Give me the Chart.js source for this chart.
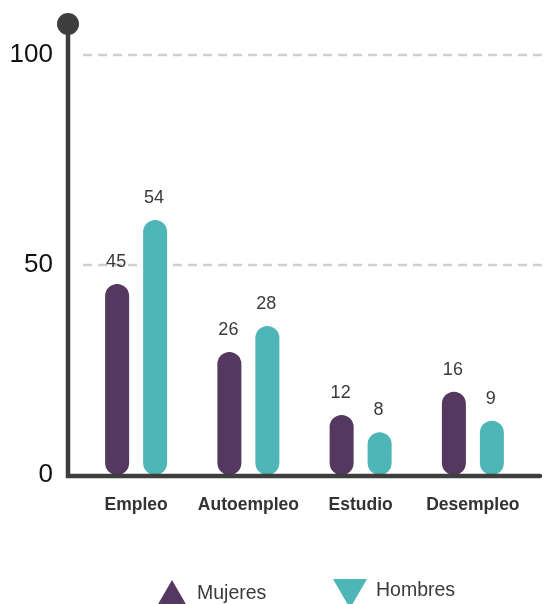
<!DOCTYPE html>
<html><head><meta charset="utf-8">
<script src="https://cdn.jsdelivr.net/npm/chart.js@4/dist/chart.umd.min.js"></script>
<style>html,body{margin:0;padding:0;background:#fff}#wrap{width:547px;height:604px;position:relative}</style>
</head><body><div id="wrap"><canvas id="c" width="547" height="604"></canvas></div>
<script>
const categories = ['Empleo', 'Autoempleo', 'Estudio', 'Desempleo'];
const seriesNames = ['Mujeres', 'Hombres'];
// bar heights as drawn in the picture
const mujeresValues = [45.5, 29.3, 14.3, 19.8];
const hombresValues = [60.7, 35.5, 10.2, 12.9];
// numbers printed above the bars
const mujeresLabels = ['45', '26', '12', '16'];
const hombresLabels = ['54', '28', '8', '9'];
const yTicks = [0, 50, 100];

const PURPLE = '#54385f';
const TEAL = '#4fb6b7';
const AXIS = '#3e3e3e';
const FONT = '"Liberation Sans", Arial, sans-serif';

const decor = {
  id: 'decor',
  beforeDatasetsDraw(chart) {
    const {ctx, chartArea} = chart;
    const y = chart.scales.y;
    ctx.save();
    ctx.strokeStyle = '#cfcfcf';
    ctx.lineWidth = 2.5;
    ctx.setLineDash([9, 6]);
    yTicks.forEach(t => {
      if (t === 0) return;
      const py = Math.round(y.getPixelForValue(t));
      ctx.beginPath();
      ctx.moveTo(chartArea.left + 3, py);
      ctx.lineTo(chart.width, py);
      ctx.stroke();
    });
    ctx.restore();
  },
  afterDatasetsDraw(chart) {
    const {ctx, chartArea} = chart;
    ctx.save();
    // axes
    const ax = chartArea.left - 12;
    const ay = chartArea.bottom + 1;
    ctx.strokeStyle = AXIS;
    ctx.lineCap = 'round';
    ctx.lineWidth = 4.5;
    ctx.beginPath();
    ctx.moveTo(ax, 24);
    ctx.lineTo(ax, ay);
    ctx.lineTo(chartArea.right + 11, ay);
    ctx.stroke();
    ctx.fillStyle = AXIS;
    ctx.beginPath();
    ctx.arc(ax, 24, 11, 0, Math.PI * 2);
    ctx.fill();
    // value labels
    const labelSets = [mujeresLabels, hombresLabels];
    ctx.font = '18px ' + FONT;
    ctx.fillStyle = '#3a3a3a';
    ctx.textAlign = 'center';
    ctx.textBaseline = 'middle';
    chart.data.datasets.forEach((ds, di) => {
      const meta = chart.getDatasetMeta(di);
      meta.data.forEach((bar, i) => {
        ctx.fillText(labelSets[di][i], bar.x - 1, bar.y - 22);
      });
    });
    // legend
    const items = [
      {name: seriesNames[0], color: PURPLE, cx: 172, w: 28, up: true, ty: 594},
      {name: seriesNames[1], color: TEAL, cx: 350, w: 34, up: false, ty: 591}
    ];
    ctx.font = '19.5px ' + FONT;
    ctx.textAlign = 'left';
    items.forEach(it => {
      const h = it.w * Math.sqrt(3) / 2;
      ctx.fillStyle = it.color;
      ctx.beginPath();
      if (it.up) {
        ctx.moveTo(it.cx, 580);
        ctx.lineTo(it.cx + it.w / 2, 580 + h);
        ctx.lineTo(it.cx - it.w / 2, 580 + h);
      } else {
        ctx.moveTo(it.cx - it.w / 2, 579);
        ctx.lineTo(it.cx + it.w / 2, 579);
        ctx.lineTo(it.cx, 579 + h);
      }
      ctx.closePath();
      ctx.fill();
      ctx.fillStyle = '#3a3a3a';
      ctx.fillText(it.name, it.cx + (it.up ? 25 : 26), it.ty);
    });
    ctx.restore();
  }
};

new Chart(document.getElementById('c'), {
  type: 'bar',
  data: {
    labels: categories,
    datasets: [
      {label: seriesNames[0], data: mujeresValues, backgroundColor: PURPLE},
      {label: seriesNames[1], data: hombresValues, backgroundColor: TEAL}
    ]
  },
  options: {
    responsive: false,
    animation: false,
    devicePixelRatio: 1,
    layout: {padding: {top: 55, right: 18, left: 0, bottom: 0}},
    datasets: {
      bar: {
        categoryPercentage: 0.677,
        barPercentage: 0.632,
        borderRadius: 12,
        borderSkipped: false
      }
    },
    plugins: {legend: {display: false}, tooltip: {enabled: false}},
    scales: {
      x: {
        grid: {display: false},
        border: {display: false},
        ticks: {font: {family: FONT, size: 17.5, weight: 'bold'}, color: '#333', padding: 12,
                autoSkip: false, maxRotation: 0, minRotation: 0},
        afterFit(s) { s.height = 129; }
      },
      y: {
        min: 0, max: 100,
        afterBuildTicks(s) { s.ticks = yTicks.map(v => ({value: v})); },
        grid: {display: false, drawTicks: false},
        border: {display: false},
        ticks: {font: {family: FONT, size: 26}, color: '#111', padding: 27},
        afterFit(s) { s.width = 80; }
      }
    }
  },
  plugins: [decor]
});
</script></body></html>
